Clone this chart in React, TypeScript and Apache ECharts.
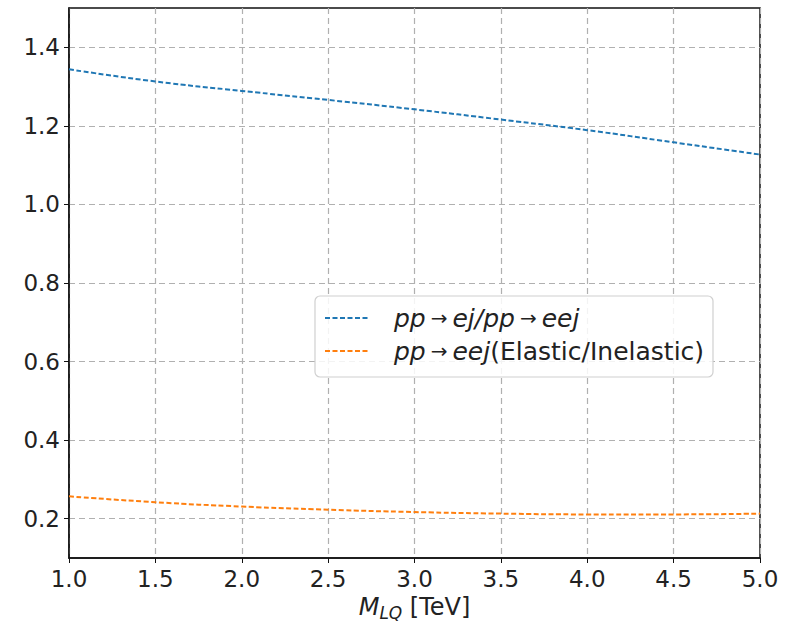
import React, { useEffect, useRef } from "react";
import * as echarts from "echarts";

const xValues = [1.0, 1.5, 2.0, 2.5, 3.0, 3.5, 4.0, 4.5, 5.0];
const ratioEjEej = [1.344, 1.313, 1.289, 1.266, 1.242, 1.216, 1.189, 1.158, 1.127];
const ratioElasticInelastic = [0.257, 0.242, 0.231, 0.223, 0.217, 0.213, 0.211, 0.211, 0.213];
const yTicks = [0.2, 0.4, 0.6, 0.8, 1.0, 1.2, 1.4];
const seriesNames = ["pp → ej/pp → eej", "pp → eej(Elastic/Inelastic)"];

const FONT = "DejaVu Sans";
const BLUE = "#1f77b4";
const ORANGE = "#ff7f0e";

export default function App() {
  const ref = useRef<HTMLDivElement>(null);
  useEffect(() => {
    if (!ref.current) return;
    const chart = echarts.init(ref.current, undefined, { renderer: "svg" });
    const gridDash = { color: "#b0b0b0", width: 1.2, type: [6, 4] as any };
    const lineDash = [5, 2.5];
    chart.setOption({
      animation: false,
      backgroundColor: "#ffffff",
      textStyle: { fontFamily: FONT },
      grid: {
        left: 69,
        top: 8,
        width: 691,
        height: 550,
        show: true,
        borderColor: "#111",
        borderWidth: 1.5,
        backgroundColor: "transparent",
        containLabel: false,
        outerBoundsMode: "none",
      },
      xAxis: {
        type: "value",
        min: 1,
        max: 5,
        interval: 0.5,
        axisLine: { show: true, lineStyle: { color: "#111", width: 1.5 } },
        axisTick: { show: true, inside: false, length: 5, lineStyle: { color: "#111", width: 1 } },
        axisLabel: {
          fontSize: 23,
          color: "#222",
          margin: 9,
          fontFamily: FONT,
          formatter: (v: number) => v.toFixed(1),
        },
        splitLine: { show: true, lineStyle: gridDash },
        name: "{m|M}{s|LQ}{n| [TeV]}",
        nameLocation: "middle",
        nameGap: 34,
        nameTextStyle: {
          fontFamily: FONT,
          color: "#222",
          rich: {
            m: { fontSize: 24, fontStyle: "italic", fontFamily: FONT, color: "#222" },
            s: { fontSize: 17, fontStyle: "italic", fontFamily: FONT, color: "#222", padding: [12, 0, 0, 0] },
            n: { fontSize: 24, fontFamily: FONT, color: "#222" },
          },
        },
      },
      yAxis: {
        type: "value",
        min: 0.1,
        max: 1.5,
        axisLine: { show: true, lineStyle: { color: "#111", width: 1.5 } },
        axisTick: { show: true, length: 5, customValues: yTicks, lineStyle: { color: "#111", width: 1 } },
        axisLabel: {
          fontSize: 23,
          color: "#222",
          margin: 9,
          fontFamily: FONT,
          customValues: yTicks,
          formatter: (v: number) => v.toFixed(1),
        },
        splitLine: { show: true, lineStyle: gridDash },
      },
      series: [
        {
          name: seriesNames[0],
          type: "line",
          data: xValues.map((x, i) => [x, ratioEjEej[i]]),
          smooth: true,
          showSymbol: false,
          symbol: "none",
          lineStyle: { color: BLUE, width: 2, type: lineDash },
          z: 5,
        },
        {
          name: seriesNames[1],
          type: "line",
          data: xValues.map((x, i) => [x, ratioElasticInelastic[i]]),
          smooth: true,
          showSymbol: false,
          symbol: "none",
          lineStyle: { color: ORANGE, width: 2, type: lineDash },
          z: 5,
        },
      ],
      graphic: [
        {
          type: "rect",
          shape: { x: 315, y: 296, width: 398, height: 81, r: 5 },
          style: { fill: "rgba(255,255,255,0.85)", stroke: "#d0d0d0", lineWidth: 1.2 },
          z: 100,
        },
        {
          type: "line",
          shape: { x1: 325, y1: 318, x2: 370, y2: 318 },
          style: { stroke: BLUE, lineWidth: 2, lineDash: lineDash },
          z: 101,
        },
        {
          type: "line",
          shape: { x1: 325, y1: 351, x2: 370, y2: 351 },
          style: { stroke: ORANGE, lineWidth: 2, lineDash: lineDash },
          z: 101,
        },
        {
          type: "text",
          x: 394,
          y: 318,
          style: {
            text: "{i|pp}{a|→}{i|ej/pp}{a|→}{i|eej}",
            verticalAlign: "middle",
            align: "left",
            rich: {
              i: { fontSize: 25, fontStyle: "italic", fontFamily: FONT, fill: "#222" },
              a: { fontSize: 20, fontFamily: FONT, fill: "#222", padding: [0, 5, 0, 5] },
            },
          },
          z: 102,
        },
        {
          type: "text",
          x: 394,
          y: 351,
          style: {
            text: "{i|pp}{a|→}{i|eej}{n|(Elastic/Inelastic)}",
            verticalAlign: "middle",
            align: "left",
            rich: {
              i: { fontSize: 25, fontStyle: "italic", fontFamily: FONT, fill: "#222" },
              a: { fontSize: 20, fontFamily: FONT, fill: "#222", padding: [0, 5, 0, 5] },
              n: { fontSize: 25, fontFamily: FONT, fill: "#222" },
            },
          },
          z: 102,
        },
      ],
    });
    return () => chart.dispose();
  }, []);
  return (
    <div
      ref={ref}
      style={{ position: "absolute", left: 0, top: 0, width: 787, height: 623 }}
    />
  );
}
